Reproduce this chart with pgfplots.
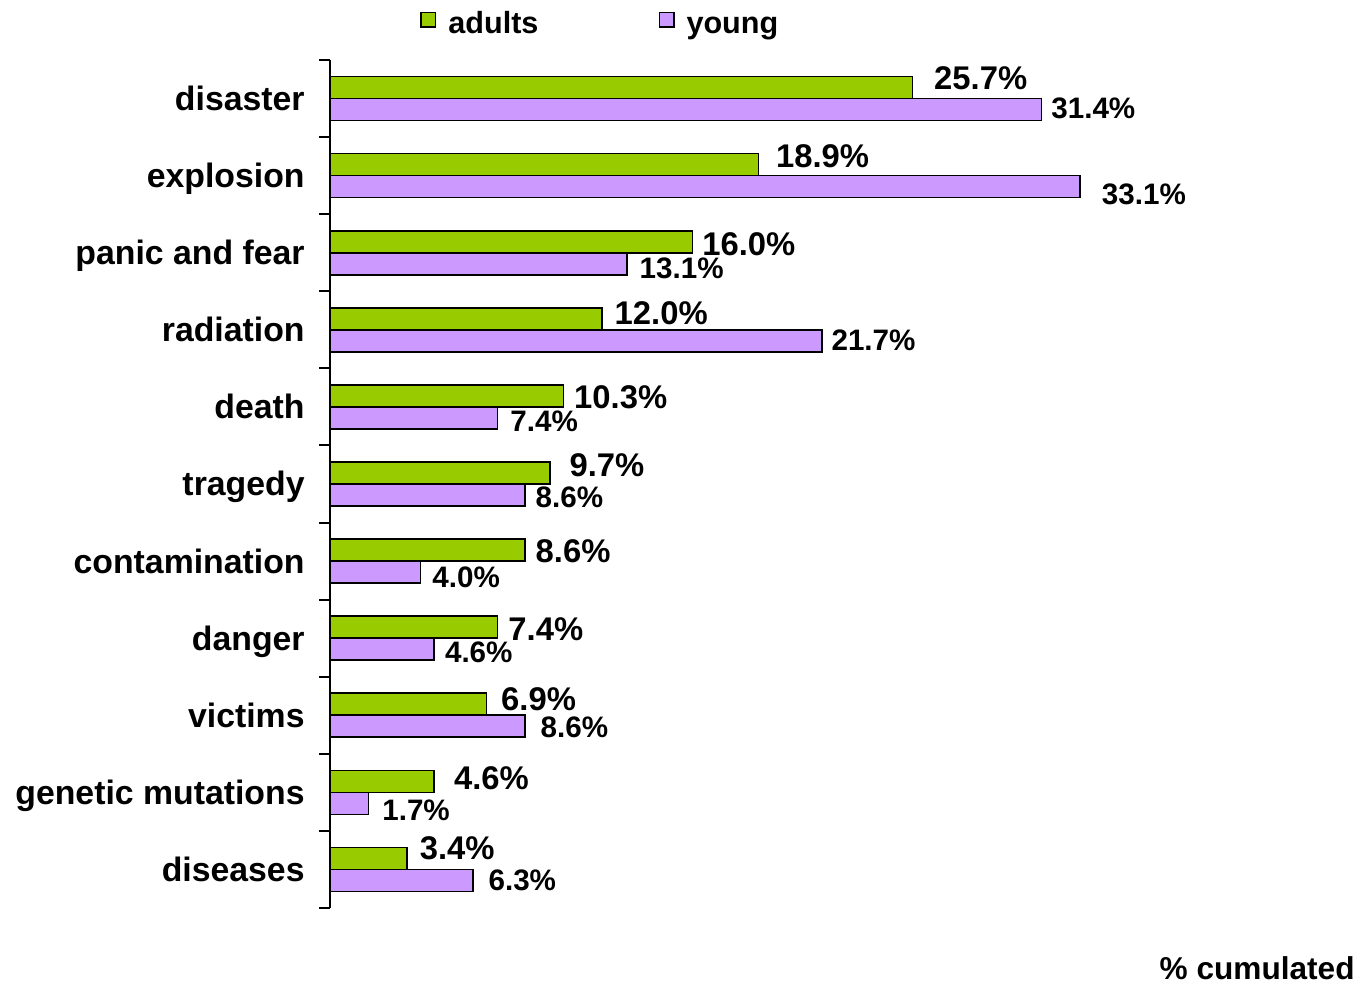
\documentclass[border=0pt]{standalone}
\usepackage{pgfplots}
\usepackage{pgfplotstable}
\pgfplotsset{compat=1.18}
\usepackage{fontspec}
\setmainfont{Liberation Sans}
\definecolor{adultgreen}{RGB}{153,204,0}
\definecolor{youngpurple}{RGB}{204,153,255}

% pos 10 = top (disaster), 0 = bottom (diseases); dx/dy = label offsets in pt
\pgfplotstableread{
pos adults adx ady young ydx ydy
10  25.7   10.5  4.5  31.4  4.5   0.5
9   18.9   8.5   4.0  33.1  10.5 -4.0
8   16.0   4.5  -1.0  13.1  6.0  -2.5
7   12.0   6.0   3.0  21.7  4.5   0.5
6   10.3   5.0  -0.5  7.4   6.0  -1.5
5   9.7    9.5   4.0  8.6   5.0  -1.0
4   8.6    5.0  -0.5  4.0   5.5  -2.5
3   7.4    5.0  -1.0  4.6   5.0  -1.5
2   6.9    7.0   2.5  8.6   7.5  -0.5
1   4.6    9.5   1.5  1.7   6.5  -3.5
0   3.4    6.0   5.0  6.3   7.5   0.0
}\datatable

\begin{document}
\begin{tikzpicture}
\begin{axis}[
name=ax,
xbar,
scale only axis,
width=512.5pt,
height=424pt,
xmin=0, xmax=45.23,
ymin=-0.5, ymax=10.5,
axis x line=none,
axis y line*=left,
axis line style={-,black,line width=1pt},
ytick={0,...,10},
yticklabels={diseases,genetic mutations,victims,danger,contamination,tragedy,death,radiation,panic and fear,explosion,disaster},
yticklabel style={font=\fontsize{16.9}{19}\selectfont\bfseries,anchor=base east,inner sep=0pt,xshift=-12.5pt,yshift=-6pt},
major tick length=0pt,
minor ytick={-0.5,0.5,...,10.5},
minor tick length=5.5pt,
tick align=outside,
minor tick style={black,line width=1pt},
bar width=11pt,
point meta=x,
/pgf/number format/assume math mode=true,
nodes near coords={\pgfmathprintnumber[fixed,fixed zerofill,precision=1]{\pgfplotspointmeta}\%},
legend columns=2,
legend style={draw=none,at={(axis description cs:0,1)},anchor=west,xshift=42pt,yshift=16.5pt,
  font=\fontsize{15.3}{18}\selectfont\bfseries,
  nodes={text height=0.75em,text depth=0.22em},
  /tikz/every odd column/.append style={column sep=4pt},
  /tikz/every even column/.append style={column sep=58pt}},
legend image code/.code={\draw[#1,line width=0.8pt] (0pt,0.8pt) rectangle (7.2pt,8pt);},
clip=false,
]
\addplot[draw=black,line width=0.8pt,fill=adultgreen,bar shift=5.5pt,
  visualization depends on={\thisrow{adx} \as \dx},
  visualization depends on={\thisrow{ady} \as \dy},
  nodes near coords style={anchor=west,inner sep=0pt,xshift=\dx,yshift=\dy,
    font=\fontsize{16.4}{19}\selectfont\bfseries,text=black}]
  table[x=adults,y=pos] {\datatable};
\addplot[draw=black,line width=0.8pt,fill=youngpurple,bar shift=-5.5pt,
  visualization depends on={\thisrow{ydx} \as \dx},
  visualization depends on={\thisrow{ydy} \as \dy},
  nodes near coords style={anchor=west,inner sep=0pt,xshift=\dx,yshift=\dy,
    font=\fontsize{14.8}{17}\selectfont\bfseries,text=black}]
  table[x=young,y=pos] {\datatable};
\legend{adults,young}
\end{axis}
\node[anchor=east,inner sep=0pt,font=\fontsize{15.8}{18}\selectfont\bfseries]
  at ([yshift=-30pt]ax.south east) {\% cumulated};
\path ([xshift=-165pt,yshift=-37.5pt]ax.south west) rectangle ([xshift=518pt,yshift=454pt]ax.south west);
\end{tikzpicture}
\end{document}
